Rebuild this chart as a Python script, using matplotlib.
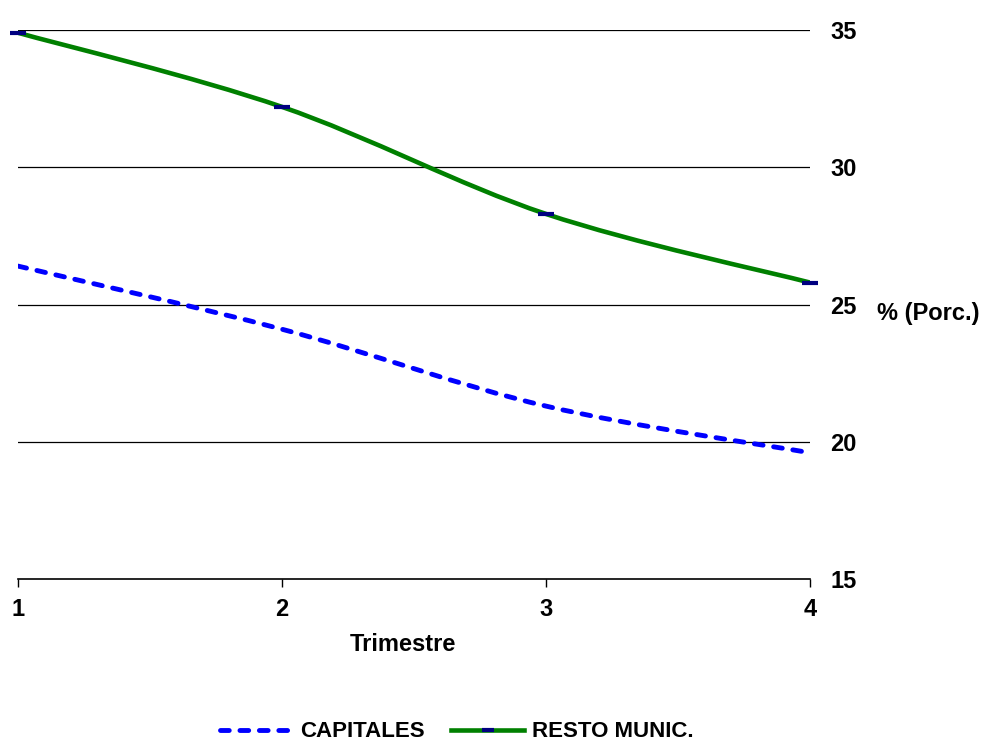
import numpy as np
import matplotlib
matplotlib.use("Agg")
from matplotlib import pyplot as plt
from matplotlib.path import Path
from matplotlib.patches import PathPatch
from matplotlib.lines import Line2D

plt.rcParams['font.family'] = ['Liberation Sans', 'DejaVu Sans']

trimestre = [1, 2, 3, 4]
capitales = [26.4, 24.1, 21.3, 19.6]
resto = [34.9, 32.2, 28.3, 25.8]
yticks = [15, 20, 25, 30, 35]


def smooth_path(x, y):
    # bezier smoothing like the spreadsheet "smoothed line"
    x = np.asarray(x, float)
    y = np.asarray(y, float)
    verts = [(x[0], y[0])]
    codes = [Path.MOVETO]
    n = len(x)
    for i in range(n - 1):
        x0, y0 = (x[i - 1], y[i - 1]) if i > 0 else (x[i], y[i])
        x3, y3 = (x[i + 2], y[i + 2]) if i + 2 < n else (x[i + 1], y[i + 1])
        c1 = (x[i] + (x[i + 1] - x0) / 6, y[i] + (y[i + 1] - y0) / 6)
        c2 = (x[i + 1] - (x3 - x[i]) / 6, y[i + 1] - (y3 - y[i]) / 6)
        verts += [c1, c2, (x[i + 1], y[i + 1])]
        codes += [Path.CURVE4] * 3
    return Path(verts, codes)


dash = (0, (1.8, 2.2))
fs = 17

fig = plt.figure(figsize=(9.82, 7.43), dpi=100)
ax = fig.add_axes([0.0183, 0.2207, 0.8065, 0.7389])
ax.set_xlim(1, 4)
ax.set_ylim(15, 35)

for v in yticks[1:]:
    ax.axhline(v, color="black", lw=0.9, zorder=1)

ax.add_patch(PathPatch(smooth_path(trimestre, capitales), fill=False,
                       edgecolor="#0000FF", lw=3.5, linestyle=dash,
                       capstyle="round", zorder=3))
ax.add_patch(PathPatch(smooth_path(trimestre, resto), fill=False,
                       edgecolor="#008000", lw=3.3, zorder=3))
ax.plot(trimestre, resto, linestyle="none", marker="_", markersize=11,
        markeredgewidth=3, color="#000080", zorder=4, clip_on=False)

for s in ["left", "right", "top"]:
    ax.spines[s].set_visible(False)
ax.spines["bottom"].set_linewidth(1.2)

ax.set_xticks(trimestre)
ax.set_xticklabels([str(t) for t in trimestre], fontsize=fs, fontweight="bold")
ax.tick_params(axis="x", direction="out", length=6, width=1, pad=8)

ax.yaxis.tick_right()
ax.set_yticks(yticks)
ax.set_yticklabels([str(t) for t in yticks], fontsize=fs, fontweight="bold")
ax.tick_params(axis="y", length=0, pad=14.5)

ax.set_xlabel("Trimestre", fontsize=fs, fontweight="bold", va="center")
ax.xaxis.set_label_coords(0.486, -0.12)
fig.text(0.945, 0.5787, "% (Porc.)", fontsize=fs, fontweight="bold",
         ha="center", va="center")

handles = [
    Line2D([], [], color="#0000FF", lw=3.5, linestyle=dash,
           dash_capstyle="round"),
    Line2D([], [], color="#008000", lw=3.3, marker="_", markersize=9,
           markeredgewidth=3, markeredgecolor="#000080"),
]
fig.legend(handles, ["CAPITALES", "RESTO MUNIC."], loc="lower center",
           bbox_to_anchor=(0.465, -0.026), ncol=2, frameon=False,
           prop={"size": 16, "weight": "bold"}, handlelength=3.3,
           handletextpad=0.32, columnspacing=1.17)

fig.savefig("out.png", dpi=100)
